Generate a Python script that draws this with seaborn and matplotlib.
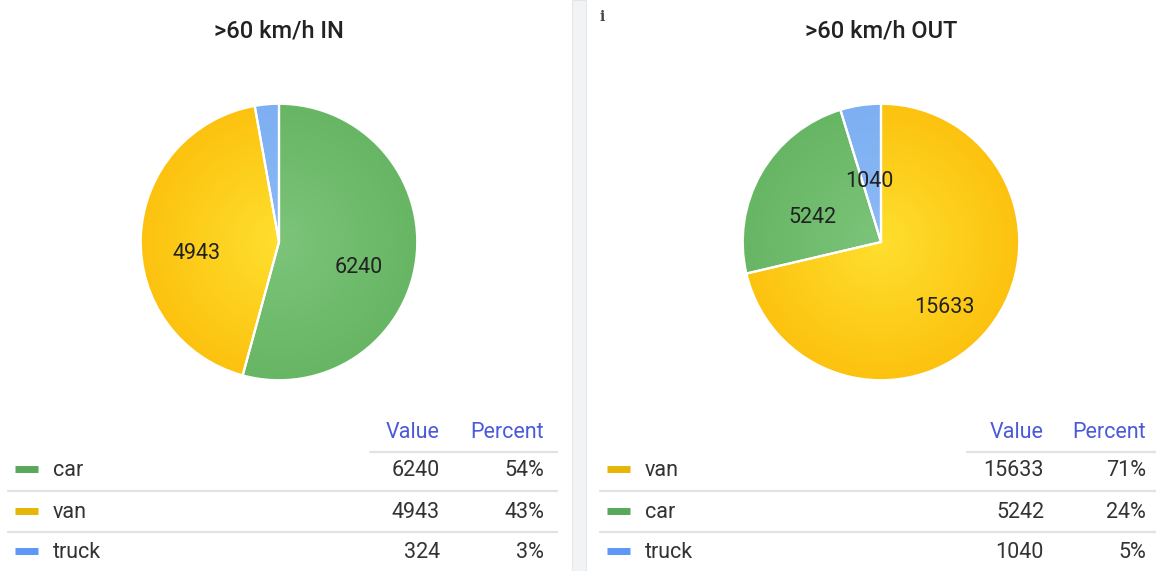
import numpy as np
import matplotlib
matplotlib.use("Agg")
import matplotlib.pyplot as plt
import matplotlib.colors as mcolors
import matplotlib.transforms as mtransforms
import seaborn as sns

# ---- data ----
in_title = ">60 km/h IN"
in_labels = ["car", "van", "truck"]
in_values = [6240, 4943, 324]

out_title = ">60 km/h OUT"
out_labels = ["van", "car", "truck"]
out_values = [15633, 5242, 1040]

# ---- styles ----
pie_edge = {"car": "#67b664", "van": "#fcc20f", "truck": "#7daff2"}
pie_center = {"car": "#7cc47a", "van": "#ffdf2e", "truck": "#8cbaf5"}
swatch = {"car": "#57a85a", "van": "#e6b607", "truck": "#5e97f6"}
header_col = "#4a5ad8"
text_col = "#333333"
line_col = "#e2e2e2"
FS = 15.5

sns.set_theme(style="white")
plt.rcParams["font.family"] = ["Roboto", "DejaVu Sans"]

W, H = 1156, 571
fig = plt.figure(figsize=(W / 100, H / 100), dpi=100)
fig.patch.set_facecolor("white")


def fx(x):
    return x / W


def fy(y):
    return 1 - y / H


def radial_fill(ax, wedge, c_center, c_edge):
    n = 300
    xs = np.linspace(-1.05, 1.05, n)
    X, Y = np.meshgrid(xs, xs)
    R = np.clip(np.sqrt(X**2 + Y**2), 0, 1)
    c0 = np.array(mcolors.to_rgb(c_center))
    c1 = np.array(mcolors.to_rgb(c_edge))
    img = c0[None, None, :] * (1 - R[..., None]) + c1[None, None, :] * R[..., None]
    im = ax.imshow(img, extent=(-1.05, 1.05, -1.05, 1.05), origin="lower",
                   zorder=1, interpolation="bilinear")
    im.set_clip_path(wedge)


def draw_panel(cx, title, labels, values, dists, x0, x1, hx0, vx, px):
    R = 141
    ax = fig.add_axes([fx(cx - R), fy(242 + R), fx(2 * R), (2 * R) / H])
    wedges, _ = ax.pie(values, colors=[pie_edge[l] for l in labels], startangle=90,
                       counterclock=False, radius=1,
                       wedgeprops=dict(edgecolor="white", linewidth=1.6))
    for w, l in zip(wedges, labels):
        w.set_facecolor("none")
        radial_fill(ax, w, pie_center[l], pie_edge[l])
        w.set_zorder(3)
    ax.set_xlim(-1.02, 1.02)
    ax.set_ylim(-1.02, 1.02)
    ax.set_aspect("equal")
    ax.axis("off")
    trans = mtransforms.offset_copy(ax.transData, fig=fig, y=-15, units="dots")
    for w, v, d in zip(wedges, values, dists):
        if d is None:
            continue
        a = np.deg2rad((w.theta1 + w.theta2) / 2)
        ax.text(d * np.cos(a), d * np.sin(a), str(v), ha="center", va="center",
                fontsize=FS, color="#222222", zorder=5, transform=trans)

    fig.text(fx(cx), fy(31), title, ha="center", va="center", fontsize=17,
             color="#222222", fontweight="medium")

    total = sum(values)
    fig.text(fx(vx), fy(432), "Value", ha="right", va="center", fontsize=FS,
             color=header_col)
    fig.text(fx(px), fy(432), "Percent", ha="right", va="center", fontsize=FS,
             color=header_col)
    fig.add_artist(plt.Line2D([fx(hx0), fx(x1)], [fy(452), fy(452)], color=line_col,
                              lw=1.6, transform=fig.transFigure))
    rows_y = [469, 511, 551]
    for i, (l, v) in enumerate(zip(labels, values)):
        y = rows_y[i]
        fig.add_artist(plt.Line2D([fx(x0 + 7), fx(x0 + 30)], [fy(y), fy(y)],
                                  color=swatch[l], lw=5, solid_capstyle="butt",
                                  transform=fig.transFigure))
        ty = y + 2
        fig.text(fx(x0 + 45), fy(ty), l, ha="left", va="center", fontsize=FS,
                 color=text_col)
        fig.text(fx(vx), fy(ty), str(v), ha="right", va="center", fontsize=FS,
                 color=text_col)
        fig.text(fx(px), fy(ty), f"{round(100 * v / total)}%", ha="right",
                 va="center", fontsize=FS, color=text_col)
        if i < len(labels) - 1:
            ys = (rows_y[i] + rows_y[i + 1]) / 2 + 1
            fig.add_artist(plt.Line2D([fx(x0), fx(x1)], [fy(ys), fy(ys)],
                                      color=line_col, lw=1.6,
                                      transform=fig.transFigure))


draw_panel(279, in_title, in_labels, in_values, [0.58, 0.6, None],
           8, 557, 370, 440, 544)
draw_panel(881, out_title, out_labels, out_values, [0.59, 0.57, 0.55],
           600, 1156, 967, 1044, 1146)

# divider between panels
fig.add_artist(plt.Rectangle((fx(572), 0), fx(14), 1, facecolor="#f1f3f4",
                             edgecolor="#e4e6e8", lw=0.8,
                             transform=fig.transFigure))
fig.text(fx(602), fy(17), "i", ha="center", va="center", fontsize=10,
         color="#444444", family=["DejaVu Serif"], fontweight="bold")

fig.savefig("out.png", dpi=100)
